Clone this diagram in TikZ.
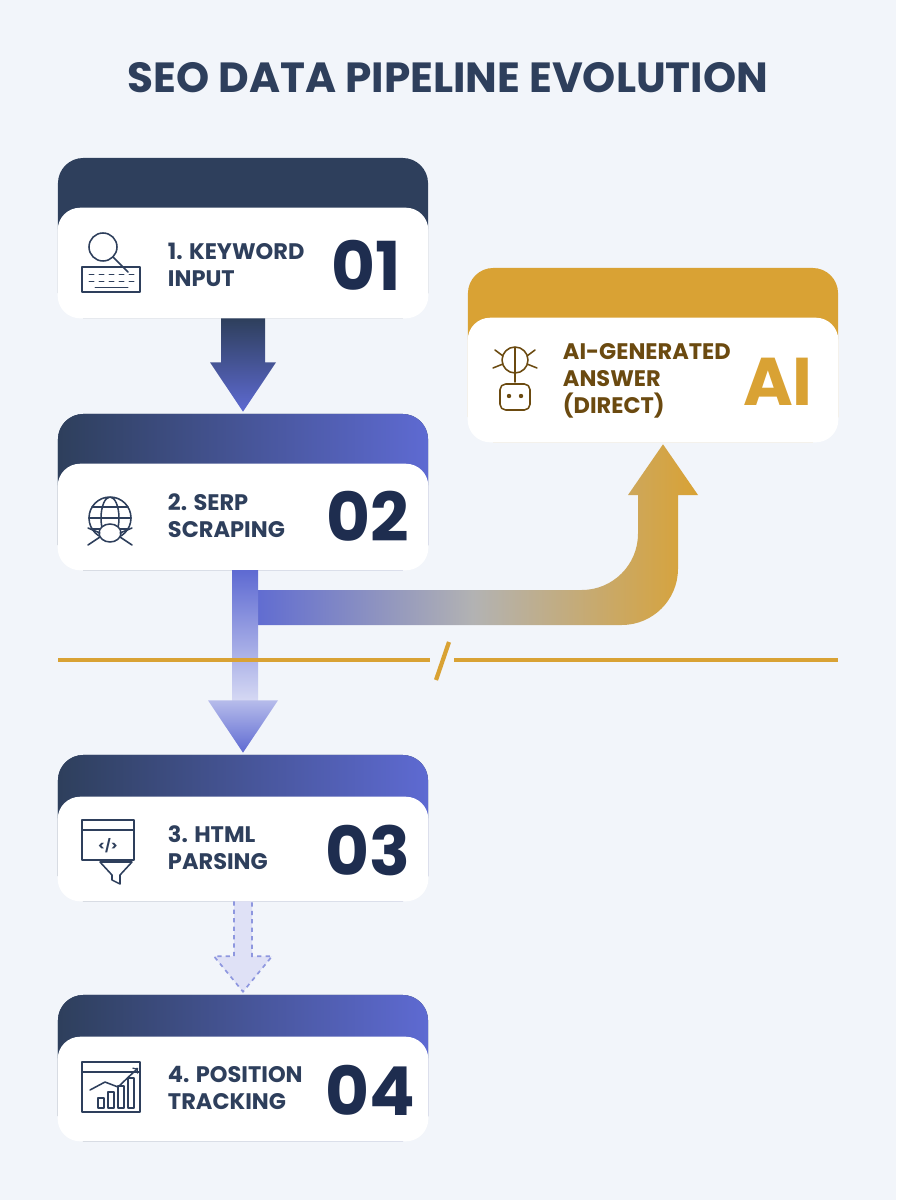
\documentclass[tikz,border=0pt]{standalone}
\usepackage{fontspec}
\setmainfont{Poppins}
\usetikzlibrary{calc}
\definecolor{navy}{HTML}{2E3F5C}
\definecolor{numnavy}{HTML}{1E2D4F}
\definecolor{pblue}{HTML}{5E6AD2}
\definecolor{gold}{HTML}{D9A234}
\definecolor{goldtext}{HTML}{6B4A10}
\definecolor{bgcol}{HTML}{F2F5FA}
\tikzset{
  card/.style={fill=navy,rounded corners=18,minimum width=9.25cm,inner sep=0pt},
  body/.style={fill=white,rounded corners=16},
  label/.style={font=\bfseries\fontsize{16}{19}\selectfont,text=navy,align=left,anchor=west},
  num/.style={font=\bfseries\fontsize{48}{48}\selectfont,text=numnavy},
  icon/.style={draw=navy,line width=1.1pt,line cap=round,line join=round},
}
\begin{document}
\begin{tikzpicture}[x=0.025cm,y=-0.025cm]
\fill[bgcol] (0,0) rectangle (896,1200);
\useasboundingbox (0,0) rectangle (896,1200);
% title
\node[font=\bfseries\fontsize{30}{30}\selectfont,text=navy] (title) at (448,78) {SEO DATA PIPELINE EVOLUTION};
% cards
\node[card,minimum height=4cm] (c1) at (243,238) {};
\fill[body] ([yshift=-1.25cm]c1.north west) rectangle (c1.south east);
\node[card,minimum height=3.9cm,left color=navy,right color=pblue] (c2) at (243,492) {};
\fill[body] ([yshift=-1.25cm]c2.north west) rectangle (c2.south east);
\node[card,minimum height=3.65cm,left color=navy,right color=pblue] (c3) at (243,828) {};
\fill[body] ([yshift=-1.05cm]c3.north west) rectangle (c3.south east);
\node[card,minimum height=3.65cm,left color=navy,right color=pblue] (c4) at (243,1068) {};
\fill[body] ([yshift=-1.05cm]c4.north west) rectangle (c4.south east);
\node[card,minimum height=4.35cm,fill=gold] (ai) at (653,355) {};
\fill[body] ([yshift=-1.25cm]ai.north west) rectangle (ai.south east);
% texts
\node[label] (t1) at (163,265) {1. KEYWORD\\INPUT};
\node[num] (n1) at (366,265) {01};
\node[label] (t2) at (163,516) {2. SERP\\SCRAPING};
\node[num] (n2) at (368,516) {02};
\node[label] (t3) at (163,848) {3. HTML\\PARSING};
\node[num] (n3) at (368,850) {03};
\node[label] (t4) at (163,1088) {4. POSITION\\TRACKING};
\node[num] (n4) at (370,1090) {04};
\node[label,text=goldtext] (tai) at (558,381) {AI-GENERATED\\ANSWER\\(DIRECT)};
\node[num,text=gold] (nai) at (778,382) {AI};
% icons
\draw[icon] (82,267) rectangle (140,292);
\foreach \i in {0,...,4} {\draw[icon,line width=0.7pt] (89+\i*10,274) -- ++(5,0) (89+\i*10,281) -- ++(5,0);}
\draw[icon,line width=0.7pt] (95,287) -- (128,287);
\draw[icon,fill=white] (103,247) circle (14);
\draw[icon] (113,257) -- (128,272);
\draw[icon] (110,518) circle (21) ellipse (9 and 21);
\draw[icon] (89,518) -- (131,518) (92,507) -- (128,507) (92,529) -- (128,529);
\draw[icon,fill=white] (110,533) ellipse (11 and 9);
\draw[icon] (100,533) -- (88,528) (100,537) -- (88,545) (120,533) -- (132,528) (120,537) -- (132,545);
\draw[icon] (82,820) rectangle (134,860) (82,830) -- (134,830);
\node[font=\bfseries\small,text=navy] (code) at (108,846) {</>};
\draw[icon,fill=white] (100,862) -- (132,862) -- (120,875) -- (120,884) -- (112,880) -- (112,875) -- cycle;
\draw[icon] (82,1062) rectangle (140,1112) (82,1072) -- (140,1072);
\foreach \h [count=\i] in {10,16,22,30} {\draw[icon,line width=0.8pt] (88+\i*10,1108) rectangle ++(6,-\h);}
\draw[icon,->] (90,1090) -- (105,1082) -- (118,1087) -- (138,1068);
\draw[icon,draw=goldtext] (515,360) circle (13) (515,347) -- (515,373);
\draw[icon,draw=goldtext] (503,356) -- (495,350) (503,364) -- (493,368) (527,356) -- (535,350) (527,364) -- (537,368);
\draw[icon,draw=goldtext] (515,373) -- (515,382);
\draw[icon,draw=goldtext,rounded corners=4] (500,384) rectangle (530,410);
\fill[goldtext] (509,396) circle (2.2) (521,396) circle (2.2);
% arrows
\shade[top color=navy,bottom color=pblue] ($(c1.south)+(-22,0)$) -- ++(44,0) -- ++(0,44) -- ++(11,0) -- ($(c2.north)+(0,-2)$) -- ($(c1.south)+(-33,44)$) -- ++(11,0) -- cycle;
\shade[left color=pblue,right color=gold,middle color=gray!60] (250,590) [rounded corners=40] -- (638,590) [sharp corners] -- (638,495) -- (628,495) -- ($(ai.south)+(10,2)$) -- (698,495) -- (678,495) [rounded corners=40] -- (678,625) [sharp corners] -- (250,625) -- cycle;
\shade[top color=pblue,bottom color=pblue!25] ($(c2.south)+(-11,0)$) -- ++(26,0) -- ++(0,132) -- ($(c2.south)+(-11,132)$) -- cycle;
\shade[top color=pblue!45,bottom color=pblue] ($(c2.south)+(-35,130)$) -- ++(70,0) -- ($(c3.north)+(0,-2)$) -- cycle;
% divider
\draw[gold,line width=3pt] (58,660) -- (430,660) (454,660) -- (838,660);
\draw[gold,line width=3pt] (436,680) -- (449,642);
% dashed arrow
\draw[pblue!70,dashed,line width=1.2pt,fill=pblue!20] ($(c3.south)+(-9,0)$) -- ++(0,55) -- ++(-20,0) -- ($(c4.north)+(0,-3)$) -- ($(c3.south)+(29,55)$) -- ++(-20,0) -- ++(0,-55);
\end{tikzpicture}
\end{document}
